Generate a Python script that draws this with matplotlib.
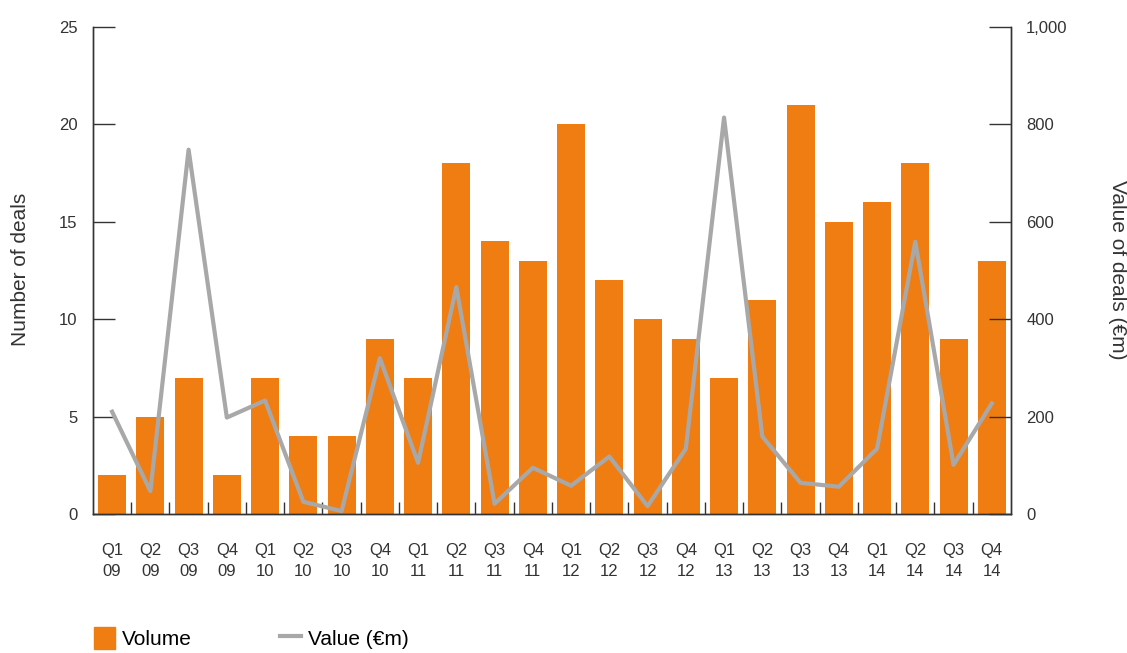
import numpy as np
import matplotlib.pyplot as plt
from matplotlib.patches import Patch
from matplotlib.lines import Line2D

plt.rcParams['font.family'] = ['Liberation Sans', 'DejaVu Sans']

quarters = ['Q1\n09', 'Q2\n09', 'Q3\n09', 'Q4\n09',
            'Q1\n10', 'Q2\n10', 'Q3\n10', 'Q4\n10',
            'Q1\n11', 'Q2\n11', 'Q3\n11', 'Q4\n11',
            'Q1\n12', 'Q2\n12', 'Q3\n12', 'Q4\n12',
            'Q1\n13', 'Q2\n13', 'Q3\n13', 'Q4\n13',
            'Q1\n14', 'Q2\n14', 'Q3\n14', 'Q4\n14']
volume = [2, 5, 7, 2, 7, 4, 4, 9, 7, 18, 14, 13,
          20, 12, 10, 9, 7, 11, 21, 15, 16, 18, 9, 13]
value = [210, 47, 748, 198, 233, 25, 6, 320, 105, 466, 21, 95,
         58, 118, 16, 134, 814, 159, 64, 56, 134, 559, 101, 227]

orange = '#F07D12'
grey = '#A8A8A8'
dark = '#333333'

fig = plt.figure(figsize=(11.27, 6.53), dpi=100)
ax = fig.add_axes([0.0825, 0.2129, 0.8145, 0.7458])
ax2 = ax.twinx()

x = np.arange(len(quarters))
ax.bar(x, volume, width=0.73, color=orange, zorder=2)
ax2.plot(x, value, color=grey, lw=3, zorder=3)

ax.set_xlim(-0.5, len(quarters) - 0.5)
ax.set_ylim(0, 25)
ax2.set_ylim(0, 1000)
ax.set_yticks(range(0, 26, 5))
ax2.set_yticks(range(0, 1001, 200))
ax2.set_yticklabels(['0', '200', '400', '600', '800', '1,000'])

ax.set_xticks(x)
ax.set_xticklabels(quarters, fontsize=12, color=dark, linespacing=1.45)
ax.set_xticks(x[:-1] + 0.5, minor=True)
ax.tick_params(axis='x', which='major', length=0, pad=21)
ax.tick_params(axis='x', which='minor', direction='in', length=9, width=1, color=dark)
ax.tick_params(axis='y', direction='in', length=16, width=1, color=dark,
               labelsize=12, labelcolor=dark, pad=11)
ax2.tick_params(axis='y', direction='in', length=16, width=1, color=dark,
                labelsize=12, labelcolor=dark, pad=11)

for a in (ax, ax2):
    a.spines['top'].set_visible(False)
    for s in ('left', 'right', 'bottom'):
        a.spines[s].set_color(dark)
        a.spines[s].set_linewidth(1)
ax.set_zorder(ax2.get_zorder() - 1)
ax2.patch.set_visible(False)
ax.spines['bottom'].set_zorder(4)

fig.text(0.018, 0.587, 'Number of deals', rotation=90, fontsize=15,
         color=dark, ha='center', va='center')
fig.text(0.992, 0.587, 'Value of deals (€m)', rotation=270, fontsize=15,
         color=dark, ha='center', va='center')

handles = [Patch(color=orange), Line2D([], [], color=grey, lw=3)]
fig.legend(handles, ['Volume', 'Value (€m)'], loc='center left',
           bbox_to_anchor=(0.074, 0.023), ncol=2, frameon=False,
           fontsize=15, handlelength=1.0, handleheight=1.3,
           handletextpad=0.35, columnspacing=4.25, borderpad=0)

fig.savefig('out.png', dpi=100)
